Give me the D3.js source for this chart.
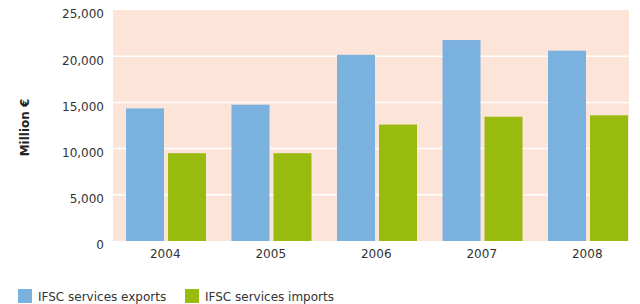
<!DOCTYPE html>
<html><head><meta charset="utf-8">
<script src="https://cdn.jsdelivr.net/npm/d3@7"></script>
<style>body{margin:0;background:#fff;} svg{display:block;} text{font-family:"DejaVu Sans",sans-serif;}</style>
</head><body>
<script>
const years = ["2004","2005","2006","2007","2008"];
const seriesNames = ["IFSC services exports","IFSC services imports"];
const exportsVals = [14350, 14750, 20150, 21750, 20600];
const importsVals = [9500, 9500, 12600, 13450, 13600];
const yTicks = [0, 5000, 10000, 15000, 20000, 25000];
const colors = ["#7bb1de", "#99bb0d"];

const W = 640, H = 304;
const svg = d3.select("body").append("svg").attr("width", W).attr("height", H);

const plotL = 113, plotR = 629, plotT = 10, plotB = 241;
const y = d3.scaleLinear().domain([0, 25000]).range([plotB, plotT]);
const x0 = d3.scaleBand().domain(years).range([plotL, plotL + 5 * 105.5]);
const x1 = d3.scaleBand().domain(seriesNames).range([13, 93]).paddingInner(0.095);

svg.append("rect").attr("x", plotL).attr("y", plotT).attr("width", plotR - plotL).attr("height", plotB - plotT).attr("fill", "#fde4d8");

svg.append("g").selectAll("line").data(yTicks.filter(d => d > 0 && d < 25000)).join("line")
  .attr("x1", plotL).attr("x2", plotR).attr("y1", d => y(d)).attr("y2", d => y(d))
  .attr("stroke", "#fff").attr("stroke-width", 1.5);

const data = years.map((yr, i) => ({year: yr, vals: [exportsVals[i], importsVals[i]]}));
const g = svg.append("g").selectAll("g").data(data).join("g")
  .attr("transform", d => `translate(${x0(d.year)},0)`);
g.selectAll("rect").data(d => d.vals.map((v, j) => ({v, s: seriesNames[j], j}))).join("rect")
  .attr("x", d => x1(d.s)).attr("width", x1.bandwidth())
  .attr("y", d => y(d.v)).attr("height", d => y(0) - y(d.v))
  .attr("fill", d => colors[d.j]);

// Y axis
const yAxis = d3.axisLeft(y).tickValues(yTicks).tickFormat(d3.format(",")).tickSize(0).tickPadding(0);
const ya = svg.append("g").attr("transform", `translate(${plotL - 9},4)`).call(yAxis);
ya.select(".domain").remove();
ya.selectAll("text").attr("font-size", 12).attr("fill", "#333").attr("font-family", "DejaVu Sans");

// X axis
const xAxis = d3.axisBottom(x0).tickSize(0).tickPadding(0);
const xa = svg.append("g").attr("transform", `translate(${-0.5},${plotB + 8})`).call(xAxis);
xa.select(".domain").remove();
xa.selectAll("text").attr("font-size", 12).attr("fill", "#333").attr("font-family", "DejaVu Sans").attr("dy", "0.71em");

svg.append("text").attr("transform", `translate(29,${(plotT + plotB) / 2 + 2}) rotate(-90)`)
  .attr("text-anchor", "middle").attr("font-size", 12).attr("font-weight", "bold").attr("fill", "#222")
  .text("Million €");

// Legend
const legX = [18, 185];
const lg = svg.append("g").selectAll("g").data(seriesNames).join("g")
  .attr("transform", (d, i) => `translate(${legX[i]},289)`);
lg.append("rect").attr("width", 14).attr("height", 14).attr("fill", (d, i) => colors[i]);
lg.append("text").attr("x", 20).attr("y", 12).attr("font-size", 12).attr("fill", "#333").text(d => d);
</script>
</body></html>
